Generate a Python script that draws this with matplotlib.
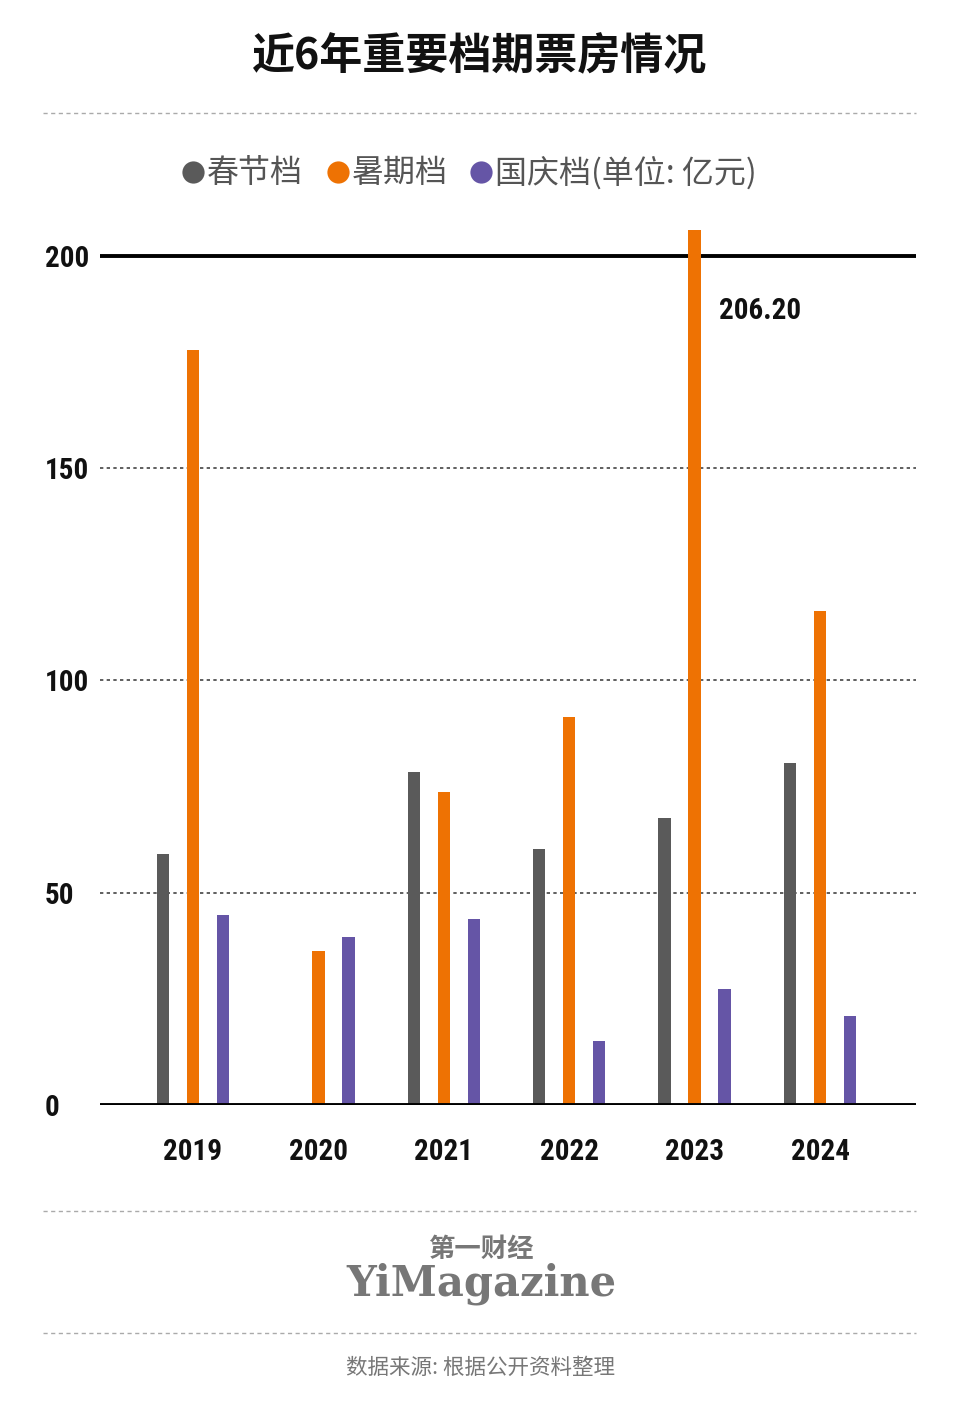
import matplotlib
matplotlib.use("Agg")
import matplotlib.pyplot as plt
from matplotlib import font_manager
import numpy as np

years = ["2019", "2020", "2021", "2022", "2023", "2024"]
spring = [59.1, 0, 78.4, 60.4, 67.6, 80.6]
summer = [177.8, 36.3, 73.8, 91.3, 206.2, 116.4]
national = [44.7, 39.5, 43.9, 15.0, 27.3, 21.0]
series_names = ["春节档", "暑期档", "国庆档(单位: 亿元)"]
yticks = [0, 50, 100, 150, 200]
title = "近6年重要档期票房情况"
annot_value = 206.20

colors = ["#5a5a5a", "#ee7203", "#6555a6"]

fonts = font_manager.fontManager.ttflist
names = {f.name for f in fonts}
cond_family, cond_stretch = "DejaVu Sans", "condensed"
for cand in ["Roboto Condensed", "Liberation Sans Narrow", "Open Sans Condensed", "Noto Sans Condensed"]:
    if cand in names:
        cond_family, cond_stretch = cand, "normal"
        break
else:
    for cand in ["Roboto", "Open Sans", "Noto Sans", "DejaVu Sans"]:
        ok = [f for f in fonts if f.name == cand and f.stretch in ("condensed", "semi-condensed", "extra-condensed", 75, 62.5, 87.5)]
        if ok:
            cond_family, cond_stretch = cand, ok[0].stretch
            break
cond = dict(fontfamily=cond_family, fontstretch=cond_stretch, fontweight="bold")

cjk = ["Noto Sans CJK SC", "DejaVu Sans"]
plt.rcParams["font.family"] = cjk

W, H = 960, 1413
fig = plt.figure(figsize=(W / 100, H / 100), dpi=100)

# overlay axes in pixel coords
ov = fig.add_axes([0, 0, 1, 1])
ov.set_xlim(0, W)
ov.set_ylim(H, 0)
ov.axis("off")

# main axes
ax_left, ax_right = 100, 916
y0_px, ymax = 1105, 210
px_per_unit = (1105 - 256) / 200
top_px = y0_px - ymax * px_per_unit
ax = fig.add_axes([ax_left / W, (H - y0_px) / H, (ax_right - ax_left) / W, (y0_px - top_px) / H])
ax.set_facecolor("none")

x = np.arange(len(years))
off, bw = 0.239, 0.10
for i, (vals, c) in enumerate(zip([spring, summer, national], colors)):
    ax.bar(x + (i - 1) * off, vals, width=bw, color=c, zorder=3)

for v in yticks[1:-1]:
    ax.axhline(v, color="#444444", lw=1.2, ls=(0, (2, 2)), zorder=1)
ax.axhline(yticks[-1], color="black", lw=2.8, zorder=2)
ax.axhline(0, color="black", lw=2.8, zorder=4)

ax.set_ylim(0, ymax)
ax.set_xlim(-93 / 125.4, 5 + 96 / 125.4)
for s in ax.spines.values():
    s.set_visible(False)
ax.set_yticks(yticks)
ax.set_yticklabels([str(v) for v in yticks], ha="left", fontsize=21, color="#111111", **cond)
ax.tick_params(axis="y", length=0, pad=55 * 0.72)
ax.set_xticks(x)
ax.set_xticklabels(years, fontsize=21, color="#111111", **cond)
ax.tick_params(axis="x", length=0, pad=24)

# annotation
ax.annotate(f"{annot_value:.2f}", xy=(x[4], annot_value), xytext=(x[4] + 24 / 125.4, 187.0),
            fontsize=21, color="#111111", va="center", ha="left", **cond)

# title
ov.text(480, 56, title, ha="center", va="center", fontsize=31, fontweight="bold", color="#111111")

# separators
for yy in [113, 1211, 1333]:
    ov.plot([43, 916], [yy, yy], color="#aaaaaa", lw=1.0, ls=(0, (3, 2.5)))

# legend
leg_x = [193, 338, 481]
for lx, name, c in zip(leg_x, series_names, colors):
    ov.plot([lx], [172], marker="o", ms=16, color=c, mec="none")
    ov.text(lx + 14, 173, name, ha="left", va="center", fontsize=23, color="#555555", fontweight="light")

# footer
ov.text(481, 1249, "第一财经", ha="center", va="center", fontsize=19, fontweight="bold", color="#777777")
ov.text(481, 1284, "YiMagazine", ha="center", va="center", fontsize=30, fontweight="bold",
        family="DejaVu Serif", color="#777777")
ov.text(481, 1368, "数据来源: 根据公开资料整理", ha="center", va="center", fontsize=15.5, color="#777777")

fig.savefig("out.png", dpi=100, facecolor="white")
